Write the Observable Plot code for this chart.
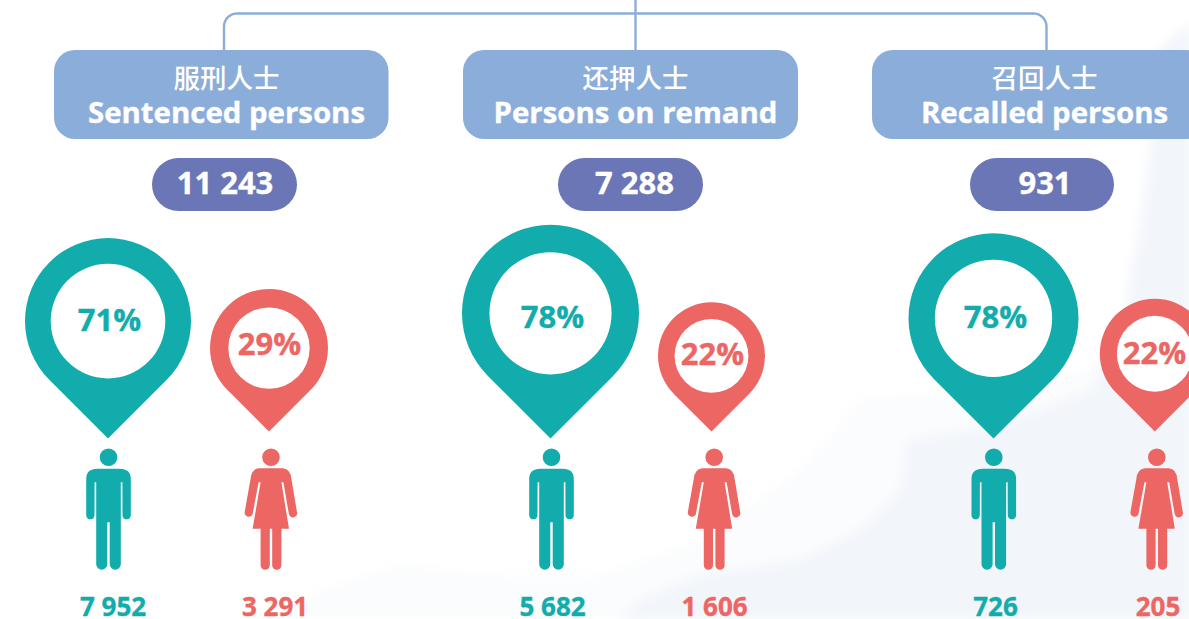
<!DOCTYPE html>
<html lang="zh-Hant">
<head>
<meta charset="utf-8">
<title>Persons in custody</title>
<script src="https://cdn.jsdelivr.net/npm/d3@7"></script>
<script src="https://cdn.jsdelivr.net/npm/@observablehq/plot@0.6"></script>
<style>
  html, body { margin: 0; padding: 0; background: #fff; overflow: hidden; }
  svg { display: block; }
  svg g[aria-label="area"] { filter: blur(5px); }
</style>
</head>
<body>
<div id="chart"></div>
<script>
// ---- Data ----
const categoriesZh = ["服刑人士", "还押人士", "召回人士"];
const categoriesEn = ["Sentenced persons", "Persons on remand", "Recalled persons"];
const totals = [11243, 7288, 931];
const maleCounts = [7952, 5682, 726];
const femaleCounts = [3291, 1606, 205];
const maleShares = [71, 78, 78];
const femaleShares = [29, 22, 22];

// ---- Layout of the infographic (pixels; x and y scales map 1:1) ----
const W = 1189, H = 619;
const boxX = [[54, 388.5], [463, 798], [872, 1207]];
const headX = [226, 635, 1044];
const pillX = [[152, 297], [558, 703], [970, 1114]];
const totalX = [224.5, 634, 1044.5];
const dropX = [223.5, 635, 1046];
const layout = {
  M: {pinX: [107.5, 550, 993], personX: [108, 551, 993.3], labelX: [112.5, 552, 995],
      pctX: [109, 552, 995], pctY: [321, 317.5, 317.5], tip: 438, tweak: [-1.1, 0, -3.5]},
  F: {pinX: [268.5, 711, 1154.3], personX: [270.5, 713.7, 1156.3], labelX: [274.5, 714, 1157.5],
      pctX: [269, 712, 1154], pctY: [344.5, 354.5, 353.5], tip: 431, tweak: [1.1, 0, 1.5]}
};
const colors = {M: "#12acac", F: "#ec6664", box: "#8badda", pill: "#6b76b6"};
const font = "'Open Sans', 'Noto Sans', sans-serif";
const cjk = "'Noto Sans CJK TC', 'Noto Sans CJK SC', sans-serif";

// Pale watercolour wash behind the lower right
const washOuter = [[280,619],[320,590],[400,565],[500,575],[600,575],[700,540],[800,470],[860,400],[1000,385],[1090,370],[1120,320],[1128,270],[1138,220],[1148,140],[1158,50],[1189,20],[1189,619]];
const washInner = [[620,619],[640,600],[700,575],[800,560],[860,530],[900,490],[908,440],[1000,425],[1090,390],[1127,320],[1133,270],[1143,220],[1153,140],[1161,50],[1189,25],[1189,619]];

// ---- Rows derived from the arrays ----
const pinScale = d3.scaleLinear([22, 78], [53.5, 88.5]);
const fmt = d3.formatLocale({thousands: " ", grouping: [3], decimal: ".", currency: ["", ""]}).format(",");
const groups = categoriesEn.map((en, i) => ({i, en, zh: categoriesZh[i], total: totals[i]}));
const rows = ["M", "F"].flatMap(g => groups.map(({i}) => {
  const L = layout[g];
  const share = (g === "M" ? maleShares : femaleShares)[i];
  return {g, i, share, count: (g === "M" ? maleCounts : femaleCounts)[i],
    r: pinScale(share) + L.tweak[i], tip: L.tip, pinX: L.pinX[i],
    personX: L.personX[i], labelX: L.labelX[i], pctX: L.pctX[i], pctY: L.pctY[i]};
}));

// ---- Custom symbols ----
const radius = size => Math.sqrt(size / Math.PI);
const pinSymbol = {draw(c, size) {
  const r = radius(size), cy = -r * Math.SQRT2;
  c.moveTo(0, 0);
  c.arc(0, cy, r, 3 * Math.PI / 4, Math.PI / 4, false);
  c.closePath();
}};
const holeSymbol = {draw(c, size) {
  const r = radius(size), cy = -r * Math.SQRT2, h = r * 0.69;
  c.moveTo(h, cy);
  c.arc(0, cy, h, 0, 2 * Math.PI);
  c.closePath();
}};
function head(c) { c.moveTo(8.8, 0); c.arc(0, 0, 8.8, 0, 2 * Math.PI); c.closePath(); }
const manSymbol = {draw(c) {
  head(c);
  c.moveTo(-11, 11.6); c.lineTo(11, 11.6);
  c.quadraticCurveTo(22.3, 11.6, 22.3, 22);
  c.lineTo(22.3, 58); c.arc(18.15, 58, 4.15, 0, Math.PI, false);
  c.lineTo(13.9, 25); c.lineTo(12.3, 25); c.lineTo(12.3, 107);
  c.arc(6.75, 107, 5.55, 0, Math.PI, false);
  c.lineTo(1.2, 65); c.lineTo(-1.2, 65); c.lineTo(-1.2, 107);
  c.arc(-6.75, 107, 5.55, 0, Math.PI, false);
  c.lineTo(-12.3, 25); c.lineTo(-13.9, 25); c.lineTo(-14, 58);
  c.arc(-18.15, 58, 4.15, 0, Math.PI, false);
  c.lineTo(-22.3, 22);
  c.quadraticCurveTo(-22.3, 11.6, -11, 11.6);
  c.closePath();
}};
const womanSymbol = {draw(c) {
  head(c);
  c.moveTo(-12, 11); c.lineTo(12, 11);
  c.quadraticCurveTo(19.5, 11.5, 20.5, 22);
  c.lineTo(26, 55); c.arc(22, 56, 4.2, -0.1, Math.PI - 0.1, false);
  c.lineTo(12.4, 25); c.lineTo(10.4, 25); c.lineTo(18, 71.6); c.lineTo(10.4, 71.6);
  c.lineTo(10.4, 108); c.arc(5.8, 108, 4.6, 0, Math.PI, false);
  c.lineTo(1.2, 71.6); c.lineTo(-1.2, 71.6); c.lineTo(-1.2, 108);
  c.arc(-5.8, 108, 4.6, 0, Math.PI, false);
  c.lineTo(-10.4, 71.6); c.lineTo(-18.4, 71.6); c.lineTo(-10.4, 25); c.lineTo(-12.4, 25);
  c.lineTo(-18.2, 56); c.arc(-22.2, 55.4, 4.2, 0.1, Math.PI + 0.1, false);
  c.lineTo(-20.5, 22);
  c.quadraticCurveTo(-19.5, 11.5, -12, 11);
  c.closePath();
}};

// Connector with rounded shoulders, sampled from two quarter circles
const connR = 13, connY = 13, boxTop = 50;
const quarter = (cx, a0, a1) => d3.range(0, 1.001, 0.1).map(t => {
  const a = a0 + (a1 - a0) * t;
  return [cx + connR * Math.cos(a), connY + connR + connR * Math.sin(a)];
});
const connector = [[dropX[0], boxTop],
  ...quarter(dropX[0] + connR, Math.PI, 1.5 * Math.PI),
  ...quarter(dropX[2] - connR, 1.5 * Math.PI, 2 * Math.PI),
  [dropX[2], boxTop]];

const washArea = (edge, fill) => Plot.area(edge, {x1: d => d[0], y1: () => H, y2: d => d[1], fill});
const bold = {fontFamily: font, fontWeight: 700, strokeWidth: 0.35, paintOrder: "normal"};

const plot = Plot.plot({
  width: W, height: H,
  margin: 0,
  style: {background: "transparent"},
  x: {domain: [0, W], range: [0, W], axis: null},
  y: {domain: [0, H], range: [0, H], axis: null},
  r: {type: "identity"},
  marks: [
    washArea(washOuter, "#fbfcfd"),
    washArea(washInner, "#f2f5fa"),
    Plot.line(connector, {x: d => d[0], y: d => d[1], stroke: colors.box, strokeWidth: 2.4}),
    Plot.ruleX([dropX[1]], {y1: 0, y2: boxTop, stroke: colors.box, strokeWidth: 2.4}),
    Plot.rect(groups, {x1: d => boxX[d.i][0], x2: d => boxX[d.i][1], y1: 50, y2: 139, rx: 21, fill: colors.box}),
    Plot.rect(groups, {x1: d => pillX[d.i][0], x2: d => pillX[d.i][1], y1: 158, y2: 211, rx: 26.5, fill: colors.pill}),
    Plot.text(groups, {x: d => headX[d.i], y: 79, text: "zh", fill: "#fff", fontSize: 26.5, fontFamily: cjk, fontWeight: 500}),
    Plot.text(groups, {x: d => headX[d.i], y: 113, text: "en", fill: "#fff", stroke: "#fff", fontSize: 29.4, ...bold}),
    Plot.text(groups, {x: d => totalX[d.i], y: 184, text: d => fmt(d.total), fill: "#fff", stroke: "#fff", fontSize: 31, ...bold}),
    Plot.dot(rows, {x: "pinX", y: "tip", r: "r", symbol: pinSymbol, fill: d => colors[d.g], stroke: "none"}),
    Plot.dot(rows, {x: "pinX", y: "tip", r: "r", symbol: holeSymbol, fill: "#fff", stroke: "none"}),
    Plot.dot(rows.filter(d => d.g === "M"), {x: "personX", y: 456.7, r: 1, symbol: manSymbol, fill: colors.M, stroke: "none"}),
    Plot.dot(rows.filter(d => d.g === "F"), {x: "personX", y: 456.7, r: 1, symbol: womanSymbol, fill: colors.F, stroke: "none"}),
    Plot.text(rows, {x: "pctX", y: "pctY", text: d => d.share + "%", fill: d => colors[d.g], stroke: d => colors[d.g], fontSize: 31, ...bold}),
    Plot.text(rows, {x: "labelX", y: 607.5, text: d => fmt(d.count), fill: d => colors[d.g], stroke: d => colors[d.g], fontSize: 26, ...bold})
  ]
});
document.getElementById("chart").append(plot);
</script>
</body>
</html>
